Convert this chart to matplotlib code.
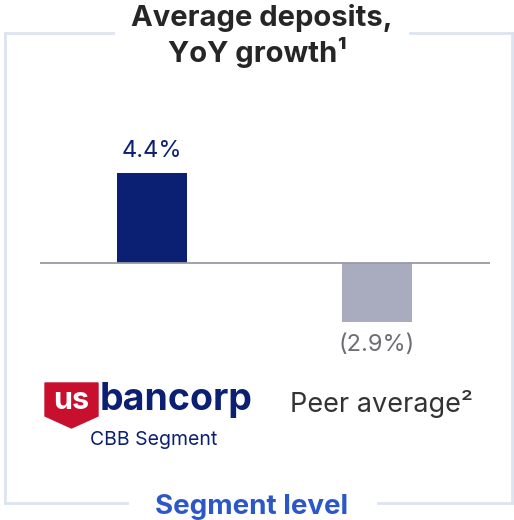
import matplotlib.pyplot as plt
from matplotlib.lines import Line2D
from matplotlib.patches import Polygon

# deposit growth, percent
groups = ["U.S. Bancorp CBB Segment", "Peer average"]
growth = [4.4, -2.9]
value_labels = ["4.4%", "(2.9%)"]

W, H = 514, 520
NAVY = "#0b1f73"
PEER = "#a9abbe"
FRAME = "#dde3f1"

plt.rcParams['font.family'] = ['Inter', 'DejaVu Sans']

fig = plt.figure(figsize=(W / 100, H / 100), dpi=100)


def fx(x):
    return x / W


def fy(y):
    return 1 - y / H


# bar panel
ax = fig.add_axes([fx(40), fy(360), 450 / W, 220 / H])
colors = [NAVY, PEER]
ax.bar(range(len(growth)), growth, width=0.311, color=colors)
ax.axhline(0, color="#9a9aa3", lw=1.3)
ax.set_xlim(-0.498, 1.502)
ax.set_ylim(-4.74, 6.01)
ax.axis("off")
label_colors = [NAVY, "#6d6d78"]
for i, (v, lab) in enumerate(zip(growth, value_labels)):
    off = 0.55 if v > 0 else -0.55
    ax.text(i, v + off, lab, ha="center", va="bottom" if v > 0 else "top",
            fontsize=17, color=label_colors[i])

# frame with gaps for the title and footer
for seg in [((5, 113), (33, 33)), ((410, 512), (33, 33)),
            ((5, 5), (33, 503)), ((512, 512), (33, 503)),
            ((5, 127), (503, 503)), ((378, 512), (503, 503))]:
    xs, ys = seg
    fig.add_artist(Line2D([fx(x) for x in xs], [fy(y) for y in ys],
                          color=FRAME, lw=2))

fig.text(fx(262), fy(18), "Average deposits,", ha="center", va="center",
         fontsize=21, fontweight="bold", color="#262626")
fig.text(fx(258), fy(52), "YoY growth\u00b9", ha="center", va="center",
         fontsize=21, fontweight="bold", color="#262626")
fig.text(fx(252), fy(507), "Segment level", ha="center", va="center",
         fontsize=20, fontweight="bold", color="#2b57c8")

# logo: red shield with "us", then "bancorp"
shield = Polygon([(fx(45), fy(383)), (fx(98), fy(383)), (fx(98), fy(416)),
                  (fx(71.5), fy(428)), (fx(45), fy(416))],
                 closed=True, transform=fig.transFigure, color="#c8102e")
fig.add_artist(shield)
fig.text(fx(71.5), fy(401), "us", ha="center", va="center",
         fontsize=22, fontweight="bold", color="white")
fig.text(fx(100), fy(400), "bancorp", ha="left", va="center",
         fontsize=27, fontweight="bold", color=NAVY)
fig.text(fx(154), fy(440), "CBB Segment", ha="center", va="center",
         fontsize=14, color=NAVY)

fig.text(fx(381), fy(404), "Peer average\u00b2", ha="center", va="center",
         fontsize=19.5, color="#333333")

fig.savefig("out.png", dpi=100)
